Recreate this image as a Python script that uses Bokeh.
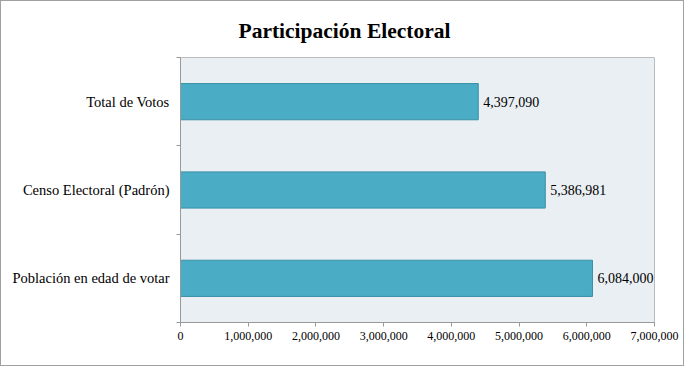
from bokeh.plotting import figure
from bokeh.models import FixedTicker, NumeralTickFormatter, LabelSet, ColumnDataSource, Range1d
from bokeh.embed import file_html
from bokeh.resources import INLINE

categories = ["Población en edad de votar", "Censo Electoral (Padrón)", "Total de Votos"]
values = [6084000, 5386981, 4397090]
x_ticks = [0, 1000000, 2000000, 3000000, 4000000, 5000000, 6000000, 7000000]
title_text = "Participación Electoral"

ypos = [i + 0.5 for i in range(len(categories))]
src = ColumnDataSource(dict(y=ypos, v=values, lab=[f"{v:,}" for v in values]))

p = figure(width=684, height=366, output_backend="svg", toolbar_location=None,
           x_range=Range1d(0, 7000000), y_range=Range1d(0, 3),
           min_border_left=179, min_border_right=31, min_border_top=0, min_border_bottom=45)
p.styles = {"border": "1px solid #a0a0a0", "box-sizing": "border-box"}

p.title.text = title_text
p.title.align = "left"
p.title.offset = 58
p.title.standoff = 30
p.title.text_font = "Liberation Serif"
p.title.text_font_size = "21.5px"
p.title.text_font_style = "bold"
p.title.text_color = "#000000"

p.background_fill_color = "#E9EFF3"
p.outline_line_color = "#BBBBBB"
p.grid.visible = False

p.hbar(y="y", right="v", left=0, height=0.41, source=src,
       fill_color="#4BACC6", line_color="#3A8FA6", line_width=1)

labels = LabelSet(x="v", y="y", text="lab", source=src, x_offset=5, text_baseline="middle",
                  text_font="Liberation Serif", text_font_size="14px", text_color="#000000")
p.add_layout(labels)

xa = p.xaxis[0]
xa.ticker = FixedTicker(ticks=x_ticks)
xa.formatter = NumeralTickFormatter(format="0,0")
xa.major_label_text_font = "Liberation Serif"
xa.major_label_text_font_size = "12px"
xa.major_label_text_color = "#000000"
xa.axis_line_color = "#999999"
xa.major_tick_line_color = "#999999"
xa.major_tick_in = 0
xa.major_tick_out = 4
xa.minor_tick_line_color = None
xa.major_label_standoff = 5

ya = p.yaxis[0]
ya.ticker = FixedTicker(ticks=ypos, minor_ticks=[0, 1, 2, 3])
ya.major_label_overrides = {y: c for y, c in zip(ypos, categories)}
ya.major_label_text_font = "Liberation Serif"
ya.major_label_text_font_size = "14.5px"
ya.major_label_text_color = "#000000"
ya.axis_line_color = "#999999"
ya.major_tick_line_color = None
ya.minor_tick_line_color = "#999999"
ya.minor_tick_in = 0
ya.minor_tick_out = 4
ya.major_label_standoff = 5

open("out.html", "w").write(file_html(p, INLINE))
